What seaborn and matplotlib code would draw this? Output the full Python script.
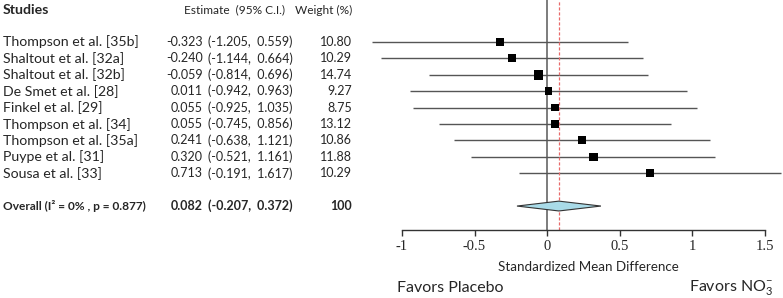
import numpy as np
import matplotlib
matplotlib.use('Agg')
import matplotlib.pyplot as plt
import matplotlib.transforms as mtransforms
import seaborn as sns

studies = ['Thompson et al. [35b]', 'Shaltout et al. [32a]', 'Shaltout et al. [32b]',
           'De Smet et al. [28]', 'Finkel et al. [29]', 'Thompson et al. [34]',
           'Thompson et al. [35a]', 'Puype et al. [31]', 'Sousa et al. [33]']
estimate = [-0.323, -0.240, -0.059, 0.011, 0.055, 0.055, 0.241, 0.320, 0.713]
ci_low = [-1.205, -1.144, -0.814, -0.942, -0.925, -0.745, -0.638, -0.521, -0.191]
ci_high = [0.559, 0.664, 0.696, 0.963, 1.035, 0.856, 1.121, 1.161, 1.617]
weight = [10.80, 10.29, 14.74, 9.27, 8.75, 13.12, 10.86, 11.88, 10.29]

overall_label = 'Overall (I\u00b2 = 0% , p = 0.877)'
overall_est = 0.082
overall_low = -0.207
overall_high = 0.372
overall_weight = '100'

xticks = [-1, -0.5, 0, 0.5, 1, 1.5]
xticklabels = ['-1', '-0.5', '0', '0.5', '1', '1.5']

sns.set_style('white')
plt.rcParams['font.family'] = ['Lato', 'DejaVu Sans']
plt.rcParams['mathtext.fontset'] = 'custom'
plt.rcParams['mathtext.rm'] = 'Lato'

W, H = 783, 298
fig = plt.figure(figsize=(W / 100, H / 100), dpi=100)
ax = fig.add_axes([360 / W, (H - 230) / H, 423 / W, 230 / H])

rows = np.arange(len(studies))
overall_row = len(studies) + 1

# CI lines
ax.hlines(rows, ci_low, ci_high, color='#555555', lw=1)
# squares, size by weight
sns.scatterplot(x=estimate, y=rows, s=np.array(weight) * 3.1, marker='s',
                color='black', edgecolor='black', linewidth=0, legend=False, ax=ax, zorder=3)

# overall diamond
dh = 0.3
ax.fill([overall_low, overall_est, overall_high, overall_est],
        [overall_row, overall_row - dh, overall_row, overall_row + dh],
        facecolor='#a9dbe8', edgecolor='#333333', lw=0.8, zorder=3)

ax.axvline(0, color='#666666', lw=1.2, zorder=1)
ax.axvline(overall_est, color='#e86a6a', lw=0.9, ls=(0, (2.5, 1.5)), zorder=2)

ax.set_xlim((360 - 547) / 145, (783 - 547) / 145)
ax.set_ylim(11.46, -2.56)
for s in ['top', 'left', 'right']:
    ax.spines[s].set_visible(False)
ax.spines['bottom'].set_bounds(-1, 1.5)
ax.spines['bottom'].set_color('#333333')
ax.spines['bottom'].set_linewidth(1)
ax.set_yticks([])
ax.set_xticks(xticks)
ax.set_xticklabels(xticklabels, family='Liberation Serif', fontsize=10.5)
ax.tick_params(axis='x', direction='out', length=4, width=1, color='#333333', pad=3, bottom=True)

# text table
tr = mtransforms.blended_transform_factory(fig.transFigure, ax.transData)
fs_name = 10.2
fs_num = 9.0
fs_head = 8.6
fig.text(3 / W, -1.95, 'Studies', transform=tr, fontsize=fs_name, fontweight='bold', va='center')
fig.text(285 / W, -1.95, 'Estimate  (95% C.I.)', transform=tr, fontsize=fs_head, ha='right', va='center')
fig.text(352 / W, -1.95, 'Weight (%)', transform=tr, fontsize=fs_head, ha='right', va='center')
for i in rows:
    fig.text(3 / W, i, studies[i], transform=tr, fontsize=fs_name, va='center')
    fig.text(203 / W, i, f'{estimate[i]:.3f}', transform=tr, fontsize=fs_num, ha='right', va='center')
    fig.text(208 / W, i, f'({ci_low[i]:.3f},  {ci_high[i]:.3f})', transform=tr, fontsize=fs_num,
             ha='left', va='center')
    fig.text(352 / W, i, f'{weight[i]:.2f}', transform=tr, fontsize=fs_num, ha='right', va='center')

fig.text(3 / W, overall_row, overall_label, transform=tr, fontsize=8.6, fontweight='bold', va='center')
fig.text(203 / W, overall_row, f'{overall_est:.3f}', transform=tr, fontsize=fs_num, fontweight='bold',
         ha='right', va='center')
fig.text(208 / W, overall_row, f'({overall_low:.3f},  {overall_high:.3f})', transform=tr, fontsize=fs_num,
         fontweight='bold', ha='left', va='center')
fig.text(352 / W, overall_row, overall_weight, transform=tr, fontsize=fs_num, fontweight='bold',
         ha='right', va='center')

fig.text(588 / W, 1 - 267 / H, 'Standardized Mean Difference', fontsize=9.6, ha='center', va='center')
fig.text(397 / W, 1 - 288 / H, 'Favors Placebo', fontsize=11.5, ha='left', va='center')
fig.text(773 / W, 1 - 288 / H, r'Favors NO$_3^{-}$', fontsize=11.5, ha='right', va='center')

fig.savefig('out.png', dpi=100)
